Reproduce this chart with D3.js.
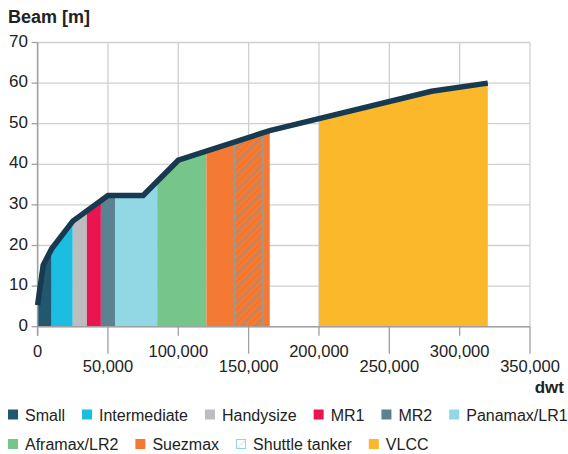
<!DOCTYPE html>
<html>
<head>
<meta charset="utf-8">
<script src="https://cdn.jsdelivr.net/npm/d3@7/dist/d3.min.js"></script>
<style>
html,body{margin:0;padding:0;background:#fff;}
svg{display:block;font-family:"Liberation Sans",Arial,Helvetica,sans-serif;}
</style>
</head>
<body>
<svg id="chart" width="568" height="454"></svg>
<script>
// ---- data ----
const lineDwt  = [0, 4000, 10000, 25000, 50000, 75000, 100000, 165000, 280000, 320000];
const lineBeam = [5.3, 15.2, 19.2, 26, 32.3, 32.3, 41, 48.3, 58, 60];

const segNames = ["Small","Intermediate","Handysize","MR1","MR2","Panamax/LR1","Aframax/LR2","Suezmax","Shuttle tanker","VLCC"];
const segStart = [0, 10000, 25000, 35000, 45000, 55000, 85000, 120000, 140000, 200000];
const segEnd   = [10000, 25000, 35000, 45000, 55000, 85000, 120000, 165000, 160000, 320000];
const segColors = ["#22586f","#1bbde0","#bcbdc0","#ea1550","#5a8290","#92d7e4","#76c58a","#f47a33","hatch","#fbb82a"];

const xTicks = [0, 50000, 100000, 150000, 200000, 250000, 300000, 350000];
const yTicks = [0, 10, 20, 30, 40, 50, 60, 70];

// ---- layout ----
const svg = d3.select("#chart");
const x = d3.scaleLinear().domain([0, 350000]).range([37.6, 530]);
const y = d3.scaleLinear().domain([0, 70]).range([326.7, 42.5]);

const defs = svg.append("defs");
const pat = defs.append("pattern").attr("id","hatch").attr("patternUnits","userSpaceOnUse")
  .attr("width",7).attr("height",7);
pat.append("path").attr("d","M-1,1 L1,-1 M0,7 L7,0 M6,8 L8,6")
  .attr("stroke","#a08878").attr("stroke-width",1).attr("fill","none");

const pts = lineDwt.map((d,i)=>[d, lineBeam[i]]);
function interp(v){
  for(let i=0;i<pts.length-1;i++){
    if(v>=pts[i][0] && v<=pts[i+1][0]){
      const t=(v-pts[i][0])/(pts[i+1][0]-pts[i][0]);
      return pts[i][1]+t*(pts[i+1][1]-pts[i][1]);
    }
  }
  return pts[pts.length-1][1];
}
function segPoints(a,b){
  const p=[[a,interp(a)]];
  pts.forEach(q=>{ if(q[0]>a && q[0]<b) p.push(q); });
  p.push([b,interp(b)]);
  return p;
}

// grid
const grid = svg.append("g");
yTicks.forEach(t=>{
  grid.append("line").attr("x1",x(0)).attr("x2",x(350000)).attr("y1",y(t)).attr("y2",y(t))
    .attr("stroke","#cfcfcf").attr("stroke-width",1.3);
});
xTicks.forEach(t=>{
  grid.append("line").attr("x1",x(t)).attr("x2",x(t)).attr("y1",y(70)).attr("y2",y(0))
    .attr("stroke","#cfcfcf").attr("stroke-width",1.3);
});

// areas
const area = d3.area().x(d=>x(d[0])).y0(y(0)).y1(d=>y(d[1]));
const areas = svg.append("g");
segNames.forEach((n,i)=>{
  if(segColors[i]==="hatch") return;
  areas.append("path").attr("d", area(segPoints(segStart[i], segEnd[i]))).attr("fill", segColors[i]);
});
// shuttle tanker overlay
{
  const i = segNames.indexOf("Shuttle tanker");
  const p = segPoints(segStart[i], segEnd[i]);
  areas.append("path").attr("d", area(p)).attr("fill","url(#hatch)");
  [segStart[i], segEnd[i]].forEach(v=>{
    areas.append("line").attr("x1",x(v)).attr("x2",x(v)).attr("y1",y(0)).attr("y2",y(interp(v)))
      .attr("stroke","#999a90").attr("stroke-width",1.6);
  });
}

// axes
const ax = svg.append("g");
ax.append("line").attr("x1",x(0)).attr("x2",x(0)).attr("y1",y(70)).attr("y2",y(0)+9)
  .attr("stroke","#a0a0a0").attr("stroke-width",1.5);
ax.append("line").attr("x1",x(0)).attr("x2",x(350000)).attr("y1",y(0)).attr("y2",y(0))
  .attr("stroke","#a0a0a0").attr("stroke-width",1.5);
yTicks.forEach(t=>{
  ax.append("line").attr("x1",x(0)-6).attr("x2",x(0)).attr("y1",y(t)).attr("y2",y(t))
    .attr("stroke","#a0a0a0").attr("stroke-width",1.3);
  ax.append("text").attr("x",28).attr("y",y(t)+4).attr("text-anchor","end")
    .attr("font-size",17).attr("fill","#222").text(t);
});
const fmt = d3.format(",");
xTicks.forEach((t,i)=>{
  const low = i%2===1;
  ax.append("line").attr("x1",x(t)).attr("x2",x(t)).attr("y1",y(0)).attr("y2",y(0)+(low?27:9))
    .attr("stroke","#a0a0a0").attr("stroke-width",1.3);
  ax.append("text").attr("x",x(t)).attr("y",low?372:357).attr("text-anchor","middle")
    .attr("font-size",16.5).attr("fill","#222").text(fmt(t));
});

// line
svg.append("path").attr("d", d3.line().x(d=>x(d[0])).y(d=>y(d[1]))(pts))
  .attr("fill","none").attr("stroke","#173a50").attr("stroke-width",5.5).attr("stroke-linejoin","miter");

// titles
svg.append("text").attr("x",8).attr("y",22.5).attr("font-size",18).attr("font-weight","bold")
  .attr("fill","#222").text("Beam [m]");
svg.append("text").attr("x",564).attr("y",393).attr("text-anchor","end").attr("font-size",17)
  .attr("font-weight","bold").attr("fill","#222").text("dwt");

// legend
const rows = [[0,1,2,3,4,5],[6,7,8,9]];
const rowY = [414.5, 444];
rows.forEach((r,ri)=>{
  let cx = 8;
  r.forEach(i=>{
    const g = svg.append("g");
    if(segColors[i]==="hatch"){
      g.append("rect").attr("x",cx+0.5).attr("y",rowY[ri]-4.5).attr("width",9).attr("height",9)
        .attr("fill","#fff").attr("stroke","#8fd3e6").attr("stroke-width",1);
      g.append("line").attr("x1",cx+1).attr("y1",rowY[ri]+4.5).attr("x2",cx+9.5).attr("y2",rowY[ri]-4)
        .attr("stroke","#b5e3ef").attr("stroke-width",1);
    } else {
      g.append("rect").attr("x",cx).attr("y",rowY[ri]-5).attr("width",10).attr("height",10)
        .attr("fill",segColors[i]);
    }
    const tx = g.append("text").attr("x",cx+17).attr("y",rowY[ri]+6).attr("font-size",16)
      .attr("fill","#222").text(segNames[i]);
    cx = cx + 17 + tx.node().getComputedTextLength() + 17;
  });
});
</script>
</body>
</html>
